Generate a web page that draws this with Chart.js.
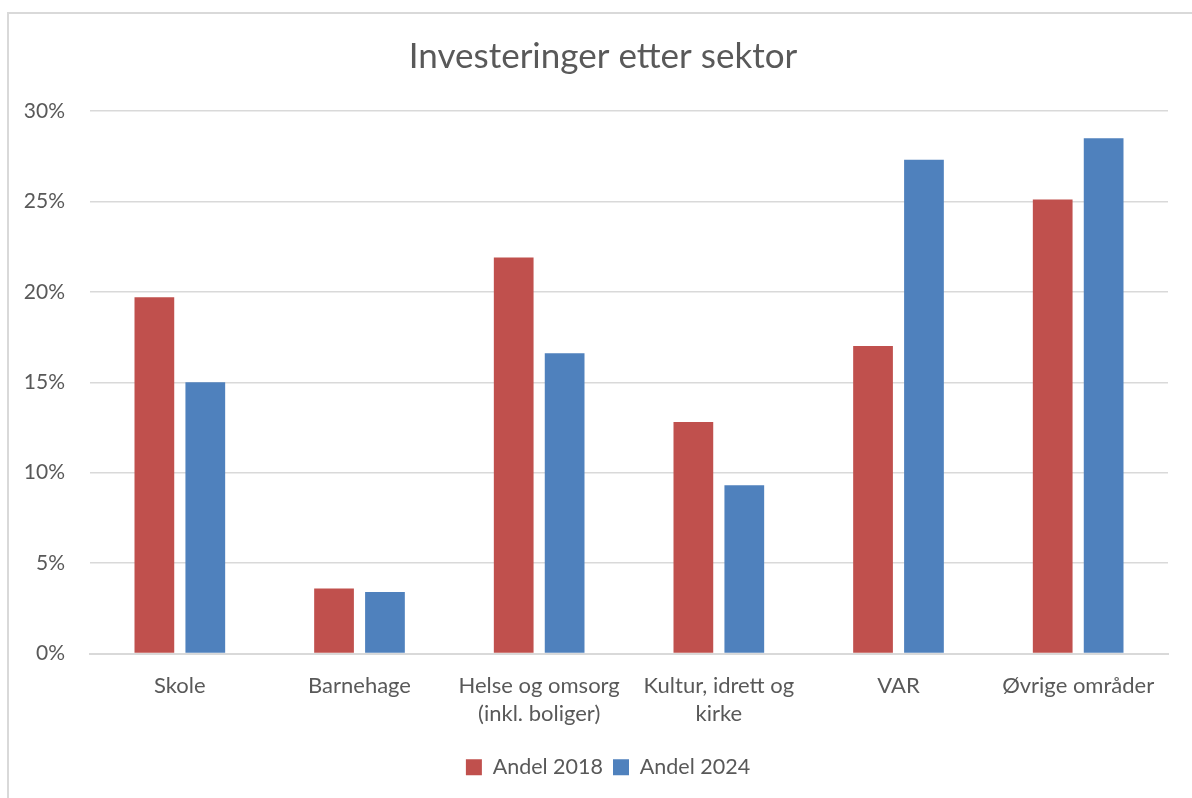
<!DOCTYPE html>
<html>
<head>
<meta charset="utf-8">
<script src="https://cdn.jsdelivr.net/npm/chart.js@4/dist/chart.umd.min.js"></script>
<style>
  html, body { margin: 0; padding: 0; background: #fff; overflow: hidden; }
  #frame { position: absolute; left: 7px; top: 12px; width: 1200px; height: 800px;
           border-left: 2px solid #d9d9d9; border-top: 2px solid #d9d9d9; }
  #wrap { position: absolute; left: 0; top: 0; width: 1192px; height: 798px; }
</style>
</head>
<body>
<div id="frame"></div>
<div id="wrap"><canvas id="sektor" width="1192" height="798"></canvas></div>
<script>
// Investeringer etter sektor, andel 2018 mot 2024
const kategorier = [
    'Skole',
    'Barnehage',
    ['Helse og omsorg', '(inkl. boliger)'],
    ['Kultur, idrett og', 'kirke'],
    'VAR',
    'Øvrige områder'
];
const andel2018 = [19.7, 3.6, 21.9, 12.8, 17.0, 25.1];
const andel2024 = [15.0, 3.4, 16.6, 9.3, 27.3, 28.5];
const yTicks = [0, 5, 10, 15, 20, 25, 30];

const tekst = '#595959';
const font = 'Lato, "Open Sans", "Noto Sans", sans-serif';

// tittel og forklaring sentreres over plottet, ikke over hele lerretet
const sentrer = {
    id: 'sentrer',
    afterLayout(chart) {
        chart.titleBlock.left += 38;
        chart.legend.left += 48;
    }
};

let ctx = document.getElementById('sektor').getContext('2d');
let myChart = new Chart(ctx, {
    type: 'bar',
    plugins: [sentrer],
    data: {
        labels: kategorier,
        datasets: [{
            label: 'Andel 2018',
            data: andel2018,
            backgroundColor: '#c0504d'
        }, {
            label: 'Andel 2024',
            data: andel2024,
            backgroundColor: '#4f81bd'
        }]
    },
    options: {
        responsive: false,
        animation: false,
        categoryPercentage: 0.567,
        barPercentage: 0.78,
        layout: { padding: { top: 36, right: 24, bottom: 10, left: 0 } },
        plugins: {
            title: {
                display: true,
                text: 'Investeringer etter sektor',
                color: tekst,
                font: { family: font, size: 35, weight: 'normal' },
                padding: { top: 0, bottom: 33 }
            },
            legend: {
                position: 'bottom',
                labels: {
                    color: tekst,
                    font: { family: font, size: 21.5 },
                    boxWidth: 16,
                    boxHeight: 16,
                    padding: 10
                }
            },
            tooltip: { enabled: false }
        },
        scales: {
            x: {
                grid: { display: false, drawTicks: false },
                border: { color: '#d9d9d9', width: 2 },
                ticks: {
                    color: tekst,
                    font: { family: font, size: 22, lineHeight: 1.3 },
                    padding: 18,
                    maxRotation: 0,
                    autoSkip: false
                },
                afterFit: s => { s.height = 93; }
            },
            y: {
                min: 0,
                max: 30,
                afterBuildTicks: s => { s.ticks = yTicks.map(v => ({ value: v })); },
                grid: { color: '#d9d9d9', lineWidth: 1.5, drawTicks: false },
                border: { display: false },
                ticks: {
                    color: tekst,
                    font: { family: font, size: 21 },
                    padding: 25,
                    callback: v => v + '%'
                },
                afterFit: s => { s.width = 90; }
            }
        }
    }
});
</script>
</body>
</html>
